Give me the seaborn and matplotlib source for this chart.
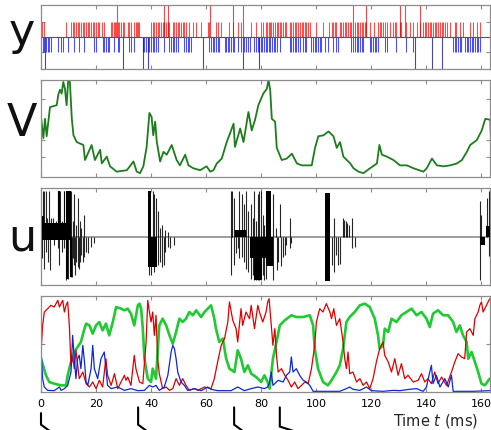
import matplotlib
matplotlib.use("Agg")
import matplotlib.pyplot as plt
import pandas as pd
import seaborn as sns
from matplotlib.transforms import blended_transform_factory

sns.set_theme(style="white")
plt.rcParams['font.family'] = ['DejaVu Sans']

# ---------------- data ----------------
x_ticks = [0, 20, 40, 60, 80, 100, 120, 140, 160]
x_max = 163.2

# panel y : spike times (ms)
red_spikes = [0.2, 1.2, 9.1, 10.9, 11.5, 12.1, 12.7, 13.3, 13.9, 14.5, 15.2, 15.8, 16.4, 17.0, 17.6,
              18.2, 18.8, 19.4, 20.0, 20.6, 21.2, 22.2, 22.8, 25.5, 25.8, 26.4, 26.9, 27.4, 27.9, 28.5,
              29.1, 29.7, 30.3, 31.5, 32.1, 32.7, 33.9, 34.5, 34.9, 35.4, 35.8, 40.0, 40.6, 41.2, 41.8,
              42.4, 43.0, 43.6, 44.2, 44.8, 45.5, 46.1, 46.7, 47.9, 48.5, 49.1, 49.7, 50.3, 50.9, 51.5,
              52.1, 52.7, 53.9, 55.2, 56.4, 58.2, 60.6, 61.2, 63.6, 64.2, 65.5, 68.5, 69.7, 71.5, 72.7,
              76.4, 78.2, 79.8, 80.7, 81.7, 82.2, 82.7, 83.1, 83.7, 84.3, 85.0, 85.6, 86.2, 86.8, 87.4,
              88.0, 88.6, 89.2, 90.4, 91.0, 91.6, 92.2, 92.8, 93.4, 94.0, 94.7, 95.3, 95.9, 96.5, 97.1,
              97.7, 100.1, 102.5, 104.7, 105.6, 106.2, 106.8, 107.4, 108.6, 109.2, 109.8, 110.4, 111.0,
              111.6, 112.2, 112.8, 114.0, 114.7, 115.3, 115.9, 116.5, 117.1, 117.7, 118.3, 119.5, 121.0,
              122.5, 123.1, 123.7, 124.3, 124.95, 125.6, 126.8, 128.0, 128.6, 129.2, 130.4, 131.0, 132.8,
              134.0, 135.3, 136.5, 137.7, 138.9, 139.5, 140.1, 140.7, 141.3, 141.9, 142.5, 143.1, 143.7,
              144.3, 145.0, 145.6, 146.2, 146.8, 147.4, 148.6, 150.4, 151.0, 152.2, 153.4, 155.9, 157.1,
              158.3, 159.5]
red_tall = [27.5, 44.8, 46.3, 61.5, 69.7, 73.3, 113.4, 118.0, 130.6, 132.2, 137.7]
blue_spikes = [0.6, 1.2, 1.8, 2.4, 3.0, 3.6, 6.1, 7.3, 7.9, 9.7, 12.1, 13.9, 15.8, 19.4, 20.0, 22.4,
               23.0, 23.6, 24.2, 24.8, 26.7, 27.9, 28.5, 32.1, 32.7, 33.9, 37.0, 37.6, 38.2, 38.8, 39.4,
               40.0, 40.6, 41.2, 41.8, 42.4, 44.8, 46.7, 47.3, 47.9, 48.5, 49.1, 49.7, 52.1, 52.7, 53.3,
               53.9, 54.5, 61.2, 61.8, 62.4, 63.0, 63.6, 64.2, 64.8, 66.7, 67.3, 67.9, 68.5, 69.1, 69.7,
               70.3, 71.5, 72.7, 73.9, 74.5, 75.2, 75.8, 77.6, 78.2, 78.8, 79.4, 79.9, 80.5, 81.0, 81.6,
               82.2, 82.8, 83.4, 84.0, 84.6, 85.2, 85.8, 86.8, 90.4, 91.0, 91.6, 92.2, 92.8, 93.4, 94.0,
               95.3, 95.9, 96.5, 98.3, 98.9, 99.5, 100.1, 100.7, 101.3, 101.9, 103.1, 104.3, 106.2,
               107.4, 108.0, 112.8, 113.4, 114.0, 114.7, 115.3, 115.9, 116.5, 117.1, 119.5, 120.1,
               120.7, 121.3, 121.9, 122.5, 124.95, 125.6, 129.2, 132.8, 135.3, 149.8, 150.4, 151.0,
               151.6, 152.2, 152.8, 154.0, 154.7, 155.3, 155.9, 156.5, 157.1, 157.7, 158.3, 158.9, 159.5]
blue_tall = [1.5, 29.7, 37.0, 39.0, 59.0, 73.3, 79.4, 135.9, 142.2, 145.6]
spike_height = 1.0
tall_height = 2.2

# panel V : (time ms, V)
V_trace = [(0, 62), (0.85, 40), (1.45, 60), (2.06, 42), (3.27, 72), (5.7, 74), (6.3, 85), (6.9, 90),
           (7.5, 86), (8.1, 98), (8.7, 91), (9.3, 74), (9.9, 100), (10.5, 98), (11.2, 60), (11.8, 43),
           (13.0, 36), (15.4, 33), (16.0, 17.5), (18.4, 33), (19.6, 17.5), (21.5, 28), (22.1, 14),
           (23.9, 21), (25.1, 11), (27.5, 5.5), (31.2, 7), (33.6, 16), (34.8, 5.5), (36.0, 4),
           (37.2, 11), (38.4, 31), (39.4, 66), (40.2, 62), (40.8, 43), (41.5, 57), (42.1, 36),
           (43.3, 16), (44.5, 26), (45.7, 23), (47.5, 33), (49.3, 17.5), (50.5, 12), (52.4, 23),
           (53.6, 12), (55.4, 9), (57.8, 7), (60.2, 11), (61.5, 5.5), (62.7, 7), (63.9, 14),
           (65.7, 19), (67.5, 36), (68.7, 45), (70.0, 55), (70.5, 31), (72.4, 50), (73.6, 36),
           (75.4, 67), (76.6, 48), (77.8, 59), (79.0, 74), (80.8, 86), (82.1, 91), (82.7, 100),
           (83.3, 90), (83.9, 60), (85.1, 57), (85.7, 30), (87.5, 17.5), (89.3, 19), (91.2, 24),
           (93.0, 14), (94.8, 12), (98.4, 12), (99.6, 30), (100.8, 42), (102.7, 43), (104.5, 47),
           (106.3, 42), (107.5, 30), (108.7, 36), (109.9, 21), (112.4, 14), (113.6, 9), (115.4, 5.5),
           (117.2, 4), (119.6, 9), (122.1, 14), (123.0, 33), (123.9, 23), (125.7, 21), (128.1, 17.5),
           (130.5, 12), (133.0, 12), (135.4, 9), (139.0, 5.5), (140.2, 9), (142.1, 19), (143.9, 12),
           (146.3, 11), (148.7, 12), (151.2, 14), (153.0, 17.5), (154.8, 26), (156.0, 33),
           (158.4, 38), (160.2, 48), (161.5, 60), (163.3, 59), (163.6, 33)]
V_ticks = [21, 38.5, 80]

# panel u : individual pulses (time ms, amplitude) and dense bursts (t0, t1, low, high)
u_pulses = [(0.2, 0.42), (0.2, -0.45), (0.6, 0.94), (1.0, -0.66), (1.2, 0.94), (1.8, 0.94), (1.8, -0.31),
            (2.2, 0.38), (2.4, -0.52), (2.8, 0.94), (3.2, -0.69), (3.6, 0.38), (4.2, 0.38), (4.8, -0.17),
            (5.5, 0.31), (6.1, 0.94), (6.1, -0.24), (6.3, 0.94), (6.7, 0.94), (6.7, -0.59), (6.9, 0.94),
            (7.3, -0.03), (7.6, 0.31), (7.6, -0.31), (8.2, 0.94), (8.5, 0.94), (8.5, -0.24), (9.1, -0.90),
            (9.5, 0.94), (9.7, 0.94), (9.7, -0.87), (10.1, 0.94), (10.4, 0.94), (10.4, -0.73),
            (10.9, 0.94), (10.9, -0.83), (11.3, -0.83), (11.6, 0.31), (11.6, -0.45), (12.1, 0.87),
            (12.1, -0.59), (12.5, -0.80), (12.8, 0.24), (12.8, -0.52), (13.3, 0.80), (13.3, -0.63),
            (13.7, -0.66), (14.1, 0.31), (14.1, -0.52), (14.5, 0.17), (14.5, -0.38), (15.2, -0.52),
            (15.8, 0.45), (15.8, -0.42), (16.4, -0.31), (17.0, -0.35), (18.2, -0.21), (19.2, -0.14),
            (39.4, -0.80), (40.0, -0.80), (40.6, 0.94), (40.9, -0.73), (41.2, 0.87), (41.8, 0.80),
            (42.7, 0.52), (42.7, -0.59), (43.4, 0.17), (43.4, -0.52), (44.0, 0.24), (44.0, -0.63),
            (44.6, -0.59), (45.2, 0.14), (45.2, -0.31), (46.1, 0.10), (46.1, -0.21), (47.0, -0.24),
            (48.2, -0.17),
            (69.1, 0.94), (69.1, -0.80), (69.5, 0.94), (70.1, 0.80), (70.1, -0.59), (70.9, 0.14),
            (70.9, -0.35), (71.5, 0.14), (71.5, -0.24), (72.1, 0.94), (72.1, -0.45), (73.0, 0.87),
            (73.0, -0.42), (73.7, 0.66), (73.7, -0.52), (74.5, 0.94), (74.5, -0.66), (75.4, 0.52),
            (75.4, -0.73), (76.4, 0.66), (76.4, -0.87), (77.0, 0.38), (77.0, -0.80), (77.6, 0.94),
            (77.6, -0.90), (78.2, 0.31), (78.2, -0.90), (78.8, 0.87), (78.8, -0.90), (79.4, 0.94),
            (79.4, -0.90), (80.0, 0.94), (80.0, -0.90), (80.6, 0.45), (80.6, -0.80), (81.2, 0.24),
            (81.2, -0.90), (81.8, 0.94), (81.8, -0.87), (84.3, 0.87), (84.3, -0.90), (85.3, 0.17),
            (85.6, -0.70), (86.2, -0.52), (87.0, 0.66), (87.4, -0.60), (88.0, -0.42), (88.6, -0.38),
            (89.2, -0.17), (90.4, 0.38), (90.4, -0.24), (91.0, -0.14),
            (105.6, -0.59), (106.4, 0.38), (106.4, -0.73), (107.1, -0.38), (108.0, -0.59),
            (108.6, -0.56), (109.6, 0.38), (110.0, 0.35), (110.8, 0.31), (111.4, 0.28), (111.9, 0.24),
            (113.1, 0.38), (113.1, -0.24), (114.0, -0.21),
            (159.5, 0.73), (159.5, -0.90), (160.1, 0.45), (162.2, 0.80), (162.9, 0.94), (162.9, -0.40)]
u_bursts = [(0.2, 1.0, 0, 0.42), (0.2, 10.9, 0, 0.28), (0.2, 11.0, -0.07, 0), (6.0, 7.0, 0, 0.94),
            (9.1, 10.9, 0, 0.94), (9.0, 9.8, -0.87, 0), (10.6, 11.4, -0.83, 0),
            (39.0, 40.0, 0, 0.94), (39.0, 42.0, -0.63, 0),
            (70.6, 74.5, 0, 0.14), (76.0, 82.5, -0.45, 0), (77.5, 80.5, -0.9, 0),
            (81.9, 83.7, 0, 0.94), (81.9, 84.5, -0.6, 0),
            (103.1, 105.0, -0.92, 0.90),
            (159.5, 161.3, -0.17, 0), (161.9, 163.2, 0, 0.21)]

# bottom panel : three traces (time ms, value)
red_trace = [(0, .417), (0.6, .694), (1.2, .833), (2.4, .868), (3.6, .903), (4.8, .885), (6.1, .955),
             (6.7, .885), (7.9, .955), (8.5, .833), (9.1, .903), (9.7, .938), (10.3, .694), (10.9, .278),
             (11.5, .365), (12.1, .243), (12.7, .434), (13.9, .139), (15.2, .208), (16.4, .087),
             (17.6, .052), (18.8, .104), (20.0, .035), (21.2, .122), (22.4, .052), (23.6, .347),
             (24.2, .174), (25.5, .069), (26.7, .191), (27.9, .035), (29.1, .104), (30.3, .174),
             (30.9, .122), (31.5, .156), (32.7, .069), (33.9, .382), (34.5, .243), (35.8, .104),
             (37.0, .087), (38.2, .521), (38.8, .955), (39.4, .833), (40.0, .729), (40.6, .833),
             (41.2, .590), (41.8, .799), (42.4, .347), (43.0, .191), (44.2, .035), (45.5, .052),
             (46.7, .017), (47.9, .035), (49.1, .139), (50.3, .069), (51.5, .139), (52.7, .069),
             (53.9, .017), (55.8, .035), (57.0, .017), (59.4, .052), (61.8, .035), (63.0, .139),
             (64.2, .313), (65.5, .486), (66.7, .556), (67.9, .729), (68.5, .938), (69.7, .747),
             (70.9, .660), (71.5, .521), (72.7, .868), (73.3, .694), (74.5, .833), (75.8, .764),
             (76.4, .903), (77.6, .660), (78.8, .903), (79.4, .833), (80.6, .729), (81.8, .833),
             (82.4, .938), (82.9, .972), (83.7, .694), (84.3, .486), (85.0, .660), (85.6, .382),
             (86.2, .208), (87.4, .243), (88.6, .174), (89.8, .122), (91.0, .052), (92.2, .104),
             (93.4, .035), (94.7, .069), (95.9, .104), (97.1, .087), (98.3, .243), (99.5, .486),
             (100.1, .729), (101.3, .868), (102.5, .833), (103.7, .920), (105.0, .833), (105.6, .764),
             (106.4, .868), (107.4, .694), (108.6, .764), (109.8, .521), (110.4, .347), (111.0, .243),
             (111.6, .417), (112.2, .191), (113.4, .208), (114.7, .104), (115.9, .139), (117.1, .069),
             (118.3, .104), (119.5, .035), (120.7, .139), (121.9, .313), (123.1, .451), (124.3, .521),
             (124.95, .382), (126.2, .313), (127.4, .208), (128.6, .347), (129.8, .174), (131.0, .295),
             (132.2, .139), (133.4, .174), (135.3, .104), (137.1, .122), (138.3, .191), (139.5, .104),
             (140.7, .139), (141.9, .087), (143.1, .208), (144.3, .087), (145.6, .156), (147.4, .069),
             (149.2, .208), (150.4, .313), (151.6, .399), (152.8, .365), (154.0, .347), (154.7, .625),
             (155.9, .660), (157.1, .590), (157.7, .764), (158.9, .833), (159.5, .903), (160.1, .938),
             (160.7, .833), (161.9, .903), (163.1, .972)]
green_trace = [(0, .347), (1.8, .174), (3.0, .104), (4.8, .087), (7.3, .069), (9.1, .069), (9.7, .174),
               (10.3, .243), (10.9, .313), (12.1, .417), (13.3, .469), (14.5, .521), (15.8, .660),
               (16.4, .712), (17.6, .694), (18.8, .608), (20.0, .694), (21.2, .729), (22.4, .642),
               (23.6, .712), (24.8, .590), (26.1, .729), (27.3, .885), (29.1, .868), (30.3, .851),
               (31.5, .868), (32.7, .816), (33.9, .694), (35.2, .903), (35.8, .920), (36.4, .868),
               (37.0, .660), (37.6, .347), (38.8, .139), (40.0, .104), (40.6, .243), (41.8, .139),
               (43.0, .694), (44.2, .764), (45.5, .694), (46.7, .590), (47.9, .503), (49.1, .625),
               (50.3, .764), (51.5, .729), (52.7, .764), (53.9, .833), (55.2, .799), (56.4, .851),
               (58.2, .781), (59.4, .833), (60.6, .868), (61.8, .903), (63.0, .764), (63.6, .660),
               (64.8, .521), (66.1, .556), (67.3, .347), (68.5, .243), (70.3, .208), (71.5, .434),
               (72.7, .347), (73.9, .208), (75.2, .278), (76.4, .191), (78.2, .156), (80.0, .104),
               (81.2, .174), (82.4, .104), (83.1, .035), (84.3, .347), (85.6, .521), (86.8, .694),
               (88.6, .747), (91.0, .799), (92.8, .781), (95.3, .781), (97.7, .799), (98.9, .694),
               (99.5, .451), (100.7, .243), (102.5, .104), (104.3, .069), (105.6, .122), (107.4, .208),
               (108.6, .278), (109.8, .451), (111.0, .729), (112.2, .781), (114.0, .833), (115.9, .903),
               (117.7, .920), (119.5, .885), (121.3, .764), (122.5, .590), (123.1, .451), (124.3, .486),
               (124.95, .660), (126.2, .625), (127.4, .764), (129.2, .729), (131.0, .799), (132.8, .833),
               (134.7, .868), (136.5, .799), (138.3, .833), (140.1, .764), (141.3, .677), (142.5, .816),
               (144.3, .851), (146.2, .799), (148.0, .799), (149.8, .729), (151.0, .625), (152.2, .694),
               (153.4, .590), (154.7, .521), (155.3, .347), (156.5, .417), (157.7, .313), (158.9, .208),
               (160.1, .087), (161.3, .069), (163.1, .139)]
blue_trace = [(0, .451), (0.6, .139), (1.2, .052), (2.4, .017), (4.8, .014), (6.7, .052), (7.3, .017),
              (8.5, .035), (9.7, .069), (10.9, .208), (11.5, .590), (12.1, .347), (12.7, .139),
              (13.3, .347), (13.9, .382), (14.5, .243), (15.2, .486), (15.8, .313), (16.4, .104),
              (17.0, .069), (18.2, .243), (18.8, .486), (19.4, .243), (20.6, .139), (21.8, .347),
              (23.0, .417), (23.6, .243), (24.2, .069), (25.5, .035), (27.9, .052), (30.3, .017),
              (32.7, .035), (35.2, .014), (37.6, .017), (39.4, .069), (40.6, .052), (41.8, .069),
              (43.0, .017), (44.8, .052), (46.1, .174), (47.3, .417), (47.9, .486), (48.5, .451),
              (49.1, .347), (49.7, .208), (50.9, .104), (52.1, .069), (53.3, .017), (55.8, .035),
              (58.2, .014), (60.6, .052), (61.8, .028), (64.2, .014), (69.1, .014), (71.5, .052),
              (73.9, .014), (76.4, .035), (78.8, .052), (81.2, .035), (82.4, .052), (83.1, .104),
              (83.7, .208), (84.3, .069), (86.2, .122), (88.0, .104), (89.2, .174), (90.4, .208),
              (91.0, .365), (91.6, .208), (92.8, .243), (94.0, .174), (95.3, .122), (96.5, .104),
              (97.7, .069), (98.9, .007), (103.7, .007), (108.6, .007), (111.0, .035), (112.2, .052),
              (113.4, .028), (115.9, .017), (118.3, .052), (120.1, .014), (124.3, .007), (128.0, .017),
              (130.4, .014), (134.0, .028), (136.5, .035), (138.9, .007), (140.1, .052), (141.3, .208),
              (141.9, .278), (142.5, .087), (143.7, .174), (145.0, .052), (146.8, .139), (148.0, .052),
              (149.2, .174), (149.8, .007), (152.2, .007), (157.1, .007), (159.5, .010), (163.1, .014)]

# times marked by connector brackets under the time axis
marker_times = [0, 35.3, 70.2, 86.8]

panel_labels = ['y', 'V', 'u']

# ---------------- figure ----------------
W, H = 491, 430
fig = plt.figure(figsize=(W / 100, H / 100), dpi=100)


def add_ax(top, bottom):
    return fig.add_axes([41 / W, 1 - bottom / H, (490 - 41) / W, (bottom - top) / H])


ax1 = add_ax(5, 69)
ax2 = add_ax(80, 177)
ax3 = add_ax(188, 285)
ax4 = add_ax(296, 392)

frame = '#8c8c8c'
for ax in (ax1, ax2, ax3, ax4):
    ax.set_xlim(0, x_max)
    ax.set_xticks(x_ticks)
    ax.tick_params(direction='in', length=3, width=0.8, color=frame, top=True, right=True,
                   bottom=True, left=True, labelbottom=False, labelleft=False, pad=5)
    for s in ax.spines.values():
        s.set_color(frame)
        s.set_linewidth(0.9)
    ax.grid(False)

# panel y
ax1.set_ylim(-2.13, 2.13)
ax1.set_yticks([-1, 1])
ax1.vlines(red_spikes, 0, spike_height, color='#ff0000', alpha=0.7, lw=0.75)
ax1.vlines(red_tall, 0, tall_height, color='#e00000', alpha=0.7, lw=0.8)
ax1.vlines(blue_spikes, -spike_height, 0, color='#0000ff', alpha=0.7, lw=0.75)
ax1.vlines(blue_tall, -tall_height, 0, color='#1a1aa0', alpha=0.8, lw=0.8)
ax1.axhline(0, color='#555555', lw=0.8)

# panel V
dfV = pd.DataFrame(V_trace, columns=['t', 'V'])
sns.lineplot(data=dfV, x='t', y='V', ax=ax2, color='#1d7d1d', lw=1.3, sort=False,
             estimator=None, legend=False)
ax2.set_ylim(0, 100)
ax2.set_yticks(V_ticks)
ax2.set_xlabel('')
ax2.set_ylabel('')

# panel u
ax3.set_ylim(-1, 1)
ax3.set_yticks([])
ax3.axhline(0, color='#8c8c8c', lw=1.2, zorder=1)
for t0, t1, lo, hi in u_bursts:
    ax3.fill_between([t0, t1], [lo, lo], [hi, hi], color='black', lw=0, zorder=2)
dfu = pd.DataFrame(u_pulses, columns=['t', 'u'])
ax3.vlines(dfu['t'], 0, dfu['u'], color='black', lw=0.8, alpha=0.85, zorder=3)

# bottom panel
for trace, col, lw in ((green_trace, '#21c933', 1.9), (red_trace, '#dd0000', 0.9),
                       (blue_trace, '#0a28d8', 0.9)):
    df = pd.DataFrame(trace, columns=['t', 'v'])
    sns.lineplot(data=df, x='t', y='v', ax=ax4, color=col, lw=lw, sort=False,
                 estimator=None, legend=False)
ax4.set_ylim(0, 1)
ax4.set_yticks([0.5])
ax4.set_xlabel('')
ax4.set_ylabel('')
ax4.tick_params(labelbottom=True, labelsize=8, labelcolor='black')

# connector brackets under the axis
tr = blended_transform_factory(ax4.transData, ax4.transAxes)
for i, t in enumerate(marker_times):
    top = -0.22 if i == 0 else -0.16
    dx = 6.5 if i == 3 else 3.8
    ybend = -0.36 if i == 3 else -0.34
    ax4.plot([t, t, t + dx], [top, ybend, -0.42], color='black', lw=1.5,
             transform=tr, clip_on=False, solid_joinstyle='miter')

fig.text(478 / W, 1 - 421 / H, 'Time $t$ (ms)', ha='right', va='center', fontsize=10.5)

# big panel letters
for lab, yc in zip(panel_labels, (33, 124, 238)):
    fig.text(22 / W, 1 - yc / H, lab, ha='center', va='center', fontsize=32, color='#111111')

fig.savefig('out.png', dpi=100)
